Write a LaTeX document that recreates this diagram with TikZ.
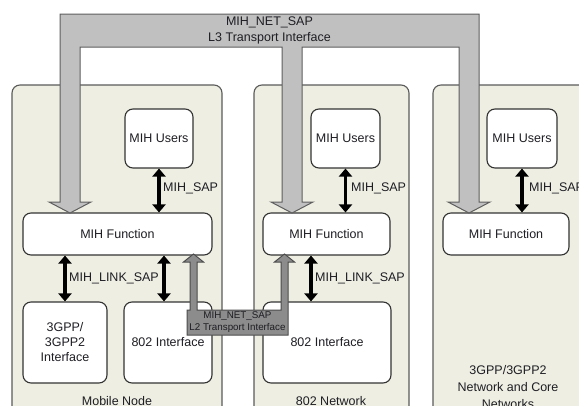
\documentclass[tikz,border=0pt]{standalone}
\usepackage{fontspec}
\setmainfont{Liberation Sans}
\usetikzlibrary{arrows.meta}
\definecolor{contfill}{HTML}{EEEEE3}
\definecolor{contline}{HTML}{5A5A5A}
\definecolor{bandfill}{HTML}{C0C0C0}
\definecolor{bandline}{HTML}{5E5E5E}
\definecolor{ltwofill}{HTML}{8C8C8C}
\definecolor{txt}{HTML}{1E1E24}
\tikzset{
  cont/.style={draw=contline, fill=contfill, line width=1.1pt, rounded corners=8pt},
  box/.style={draw=black!80, fill=white, line width=1.1pt, rounded corners=8pt, inner sep=0pt, align=center, text=txt, font=\fontsize{12.5}{15}\selectfont},
  lbl/.style={inner sep=0pt, text=txt, font=\fontsize{12.5}{15}\selectfont, align=center},
  dbl/.style={line width=3.4pt, {Triangle[width=13pt,length=8pt]}-{Triangle[width=13pt,length=8pt]}},
  band/.style={draw=bandline, fill=bandfill, line width=1pt, line join=miter},
  ltwo/.style={draw=black!70, fill=ltwofill, line width=1pt, line join=miter}
}
\begin{document}
\begin{tikzpicture}[x=1pt,y=-1pt]
\useasboundingbox (0,0) rectangle (579,405);
\clip (0,0) rectangle (579,405);
% containers
\draw[cont] (12,85) rectangle (222,425);
\draw[cont] (254,85) rectangle (409,425);
\draw[cont] (433,85) rectangle (610,425);
% inner nodes
\node[box, minimum width=68pt, minimum height=59pt] (u1) at (159,138.5) {MIH Users};
\node[box, minimum width=189pt, minimum height=42pt] (f1) at (117.5,234) {MIH Function};
\node[box, minimum width=84pt, minimum height=81pt] (g1) at (65,342.5) {3GPP/\\3GPP2\\Interface};
\node[box, minimum width=88pt, minimum height=81pt] (i1) at (168,342.5) {802 Interface};
\node[box, minimum width=69pt, minimum height=59pt] (u2) at (345.5,138.5) {MIH Users};
\node[box, minimum width=127pt, minimum height=42pt] (f2) at (326.5,234) {MIH Function};
\node[box, minimum width=128pt, minimum height=81pt] (i2) at (327,342.5) {802 Interface};
\node[box, minimum width=70pt, minimum height=59pt] (u3) at (522,138.5) {MIH Users};
\node[box, minimum width=126pt, minimum height=42pt] (f3) at (506,234) {MIH Function};
% container labels
\node[lbl] (mn) at (117,401) {Mobile Node};
\node[lbl] (nw) at (331,401) {802 Network};
\node[lbl, font=\fontsize{12.5}{17}\selectfont] (cn) at (508,387.5) {3GPP/3GPP2\\Network and Core\\Networks};
% SAP arrows
\draw[dbl] (u1.south) -- (u1.south |- f1.north);
\draw[dbl] (u2.south) -- (u2.south |- f2.north);
\draw[dbl] (u3.south) -- (u3.south |- f3.north);
\draw[dbl] (g1.north) -- (g1.north |- f1.south);
\draw[dbl] ([xshift=-4pt]i1.north) -- ([xshift=-4pt]i1.north |- f1.south);
\draw[dbl] ([xshift=-16pt]i2.north) -- ([xshift=-16pt]i2.north |- f2.south);
\node[lbl, anchor=west] (s1) at (163,188.5) {MIH\_SAP};
\node[lbl, anchor=west] (s2) at (351,188.5) {MIH\_SAP};
\node[lbl, anchor=west] (s3) at (529,188.5) {MIH\_SAP};
\node[lbl, anchor=west] (k1) at (69,278) {MIH\_LINK\_SAP};
\node[lbl, anchor=west] (k2) at (315,278) {MIH\_LINK\_SAP};
% L3 transport band
\draw[band] (60,14) -- (479,14) -- (479,202) -- (490,202) -- (469,213) -- (448,202) -- (459,202)
  -- (459,47) -- (302,47) -- (302,202) -- (313,202) -- (292,213) -- (271,202) -- (282,202)
  -- (282,47) -- (80,47) -- (80,202) -- (91,202) -- (70,213) -- (49,202) -- (60,202) -- cycle;
\node[lbl, font=\fontsize{12.5}{16}\selectfont] (l3) at (269.5,30) {MIH\_NET\_SAP\\L3 Transport Interface};
% L2 transport shape
\draw[ltwo] (187,335) -- (187,310) -- (190,310) -- (190,262) -- (183.5,262) -- (193.5,254) -- (203.5,262)
  -- (197,262) -- (197,310) -- (281,310) -- (281,262) -- (274.5,262) -- (284.5,254) -- (294.5,262)
  -- (288,262) -- (288,335) -- cycle;
\node[lbl, font=\fontsize{9.8}{12}\selectfont] (l2) at (237.5,322.5) {MIH\_NET\_SAP\\L2 Transport Interface};
\end{tikzpicture}
\end{document}
